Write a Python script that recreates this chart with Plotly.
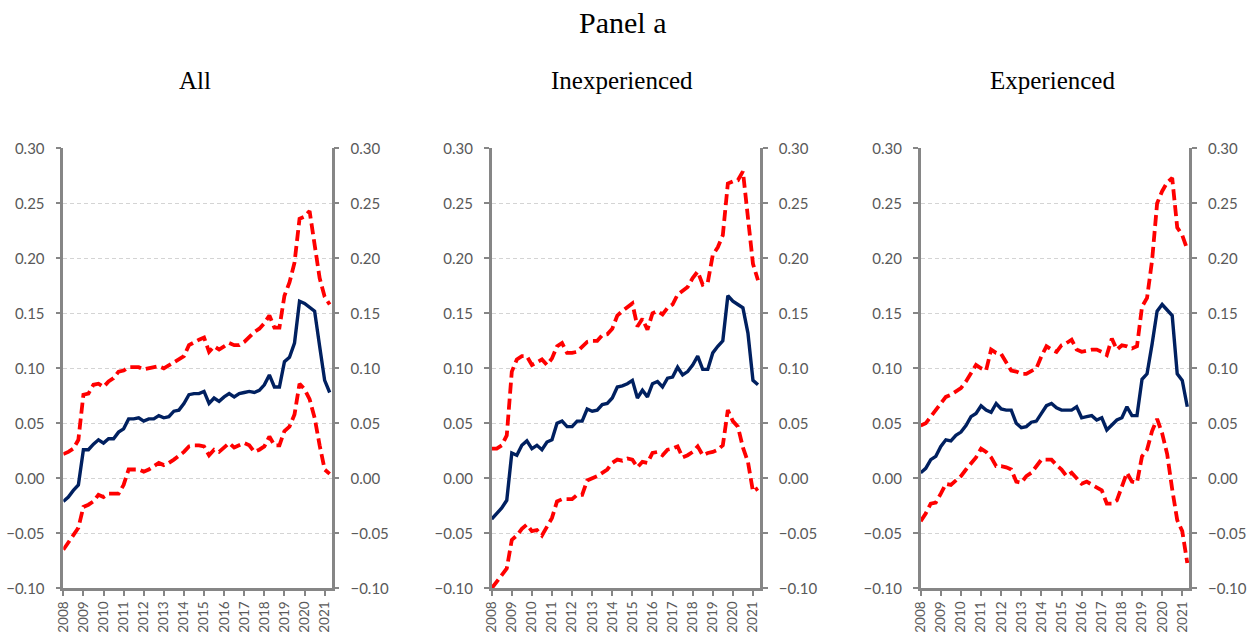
import plotly.graph_objects as go

# Quarterly observations, 2008Q1 - 2021Q2
quarters = [f"{y}Q{q}" for y in range(2008, 2022) for q in range(1, 5)][:54]
year_ticks = [f"{y}Q1" for y in range(2008, 2022)]
year_labels = [str(y) for y in range(2008, 2022)]

panel_names = ["All", "Inexperienced", "Experienced"]

all_mid = [-0.021, -0.017, -0.011, -0.006,
           0.026, 0.026, 0.031, 0.035, 0.032, 0.036, 0.036, 0.042,
           0.045, 0.054, 0.054, 0.055, 0.052, 0.054, 0.054, 0.057,
           0.055, 0.056, 0.061, 0.062, 0.068, 0.076, 0.077, 0.077,
           0.079, 0.068, 0.073, 0.070, 0.074, 0.077, 0.074, 0.077,
           0.078, 0.079, 0.078, 0.080, 0.085, 0.094, 0.083, 0.083,
           0.106, 0.110, 0.123, 0.161, 0.159, 0.155, 0.152, 0.120,
           0.089, 0.078]
all_hi = [0.022, 0.024, 0.027, 0.035,
          0.076, 0.077, 0.085, 0.086, 0.083, 0.088, 0.091, 0.097,
          0.098, 0.101, 0.101, 0.101, 0.099, 0.100, 0.101, 0.102,
          0.100, 0.103, 0.106, 0.108, 0.111, 0.121, 0.124, 0.126,
          0.128, 0.115, 0.120, 0.117, 0.120, 0.123, 0.121, 0.121,
          0.124, 0.129, 0.133, 0.136, 0.141, 0.148, 0.137, 0.137,
          0.166, 0.178, 0.196, 0.236, 0.238, 0.243, 0.212, 0.182,
          0.165, 0.158]
all_lo = [-0.065, -0.058, -0.052, -0.045,
          -0.026, -0.024, -0.021, -0.015, -0.017, -0.014, -0.014, -0.014,
          -0.006, 0.008, 0.008, 0.008, 0.006, 0.008, 0.011, 0.014,
          0.012, 0.014, 0.017, 0.020, 0.024, 0.029, 0.030, 0.030,
          0.029, 0.021, 0.026, 0.024, 0.028, 0.032, 0.028, 0.030,
          0.032, 0.030, 0.024, 0.026, 0.029, 0.038, 0.030, 0.030,
          0.043, 0.047, 0.058, 0.086, 0.081, 0.072, 0.055, 0.030,
          0.008, 0.004]

inex_mid = [-0.037, -0.032, -0.027, -0.020,
            0.023, 0.021, 0.030, 0.034, 0.027, 0.030, 0.026, 0.033,
            0.035, 0.050, 0.052, 0.047, 0.047, 0.052, 0.052, 0.063,
            0.061, 0.062, 0.067, 0.068, 0.073, 0.083, 0.084, 0.086,
            0.089, 0.073, 0.080, 0.074, 0.086, 0.088, 0.083, 0.091,
            0.092, 0.101, 0.094, 0.097, 0.103, 0.111, 0.099, 0.099,
            0.114, 0.120, 0.125, 0.166, 0.161, 0.158, 0.155, 0.132,
            0.089, 0.085]
inex_hi = [0.027, 0.027, 0.030, 0.039,
           0.097, 0.108, 0.111, 0.111, 0.103, 0.106, 0.108, 0.103,
           0.109, 0.120, 0.123, 0.114, 0.114, 0.115, 0.120, 0.124,
           0.125, 0.125, 0.130, 0.131, 0.136, 0.148, 0.152, 0.155,
           0.159, 0.138, 0.145, 0.135, 0.150, 0.152, 0.149, 0.155,
           0.158, 0.167, 0.170, 0.174, 0.182, 0.188, 0.176, 0.178,
           0.203, 0.210, 0.221, 0.268, 0.270, 0.271, 0.279, 0.240,
           0.195, 0.180]
inex_lo = [-0.100, -0.094, -0.088, -0.082,
           -0.056, -0.052, -0.046, -0.042, -0.048, -0.047, -0.052, -0.044,
           -0.036, -0.021, -0.019, -0.019, -0.019, -0.015, -0.015, -0.002,
           0.000, 0.002, 0.005, 0.008, 0.014, 0.017, 0.016, 0.018,
           0.017, 0.010, 0.015, 0.014, 0.023, 0.024, 0.021, 0.026,
           0.027, 0.029, 0.019, 0.021, 0.024, 0.029, 0.021, 0.023,
           0.024, 0.026, 0.030, 0.062, 0.052, 0.047, 0.028, 0.015,
           -0.012, -0.009]

exp_mid = [0.005, 0.009, 0.017, 0.020,
           0.029, 0.035, 0.034, 0.039, 0.042, 0.048, 0.056, 0.059,
           0.066, 0.062, 0.060, 0.068, 0.063, 0.062, 0.062, 0.050,
           0.046, 0.047, 0.051, 0.052, 0.059, 0.066, 0.068, 0.064,
           0.062, 0.062, 0.062, 0.065, 0.055, 0.056, 0.057, 0.053,
           0.055, 0.044, 0.049, 0.053, 0.055, 0.065, 0.057, 0.057,
           0.090, 0.095, 0.122, 0.152, 0.158, 0.153, 0.148, 0.095,
           0.089, 0.065]
exp_hi = [0.048, 0.050, 0.056, 0.062,
          0.068, 0.074, 0.076, 0.079, 0.082, 0.088, 0.095, 0.103,
          0.100, 0.098, 0.117, 0.114, 0.113, 0.105, 0.098, 0.097,
          0.095, 0.095, 0.098, 0.100, 0.111, 0.120, 0.117, 0.115,
          0.121, 0.123, 0.126, 0.117, 0.115, 0.116, 0.117, 0.117,
          0.115, 0.112, 0.127, 0.117, 0.121, 0.120, 0.118, 0.120,
          0.156, 0.164, 0.198, 0.250, 0.261, 0.269, 0.273, 0.228,
          0.221, 0.208]
exp_lo = [-0.039, -0.032, -0.023, -0.022,
          -0.014, -0.005, -0.006, -0.002, 0.002, 0.008, 0.014, 0.019,
          0.027, 0.024, 0.019, 0.011, 0.011, 0.010, 0.008, -0.003,
          -0.004, 0.002, 0.005, 0.011, 0.017, 0.017, 0.017, 0.012,
          0.008, 0.002, 0.005, 0.000, -0.005, -0.003, -0.006, -0.009,
          -0.011, -0.023, -0.023, -0.020, -0.008, 0.005, -0.003, -0.004,
          0.020, 0.026, 0.043, 0.054, 0.041, 0.022, -0.010, -0.038,
          -0.048, -0.077]

y_ticks = [-0.10, -0.05, 0.00, 0.05, 0.10, 0.15, 0.20, 0.25, 0.30]

panels = [
    (all_mid, all_lo, all_hi),
    (inex_mid, inex_lo, inex_hi),
    (exp_mid, exp_lo, exp_hi),
]

W, H = 1253, 635
NAVY = "#002060"
RED = "#FF0000"
AXIS = "#868686"
SANS = "Lato, Open Sans, sans-serif"
YTICKFONT = dict(family=SANS, size=15, color="#595959")
XTICKFONT = dict(family=SANS, size=13.5, color="#595959")
SERIF = "Liberation Serif, Times New Roman, serif"

# plot-area edges in pixels for each panel
left_px = [63.3, 491.7, 920.7]
right_px = [331.7, 760.0, 1189.3]
top_px, bottom_px = 148.3, 588.3

fig = go.Figure()
layout = dict(
    template="none",
    width=W, height=H,
    margin=dict(l=0, r=0, t=0, b=0, autoexpand=False),
    paper_bgcolor="white", plot_bgcolor="white",
    showlegend=False,
)

ydom = [1 - bottom_px / H, 1 - top_px / H]

for k, (mid, lo, hi) in enumerate(panels):
    xa = "x" if k == 0 else f"x{k + 1}"
    yl = 2 * k + 1
    yr = 2 * k + 2
    ya_left = "y" if yl == 1 else f"y{yl}"
    ya_right = f"y{yr}"
    for series, color, dash, width in ((hi, RED, "11px,5px", 3.8),
                                       (lo, RED, "11px,5px", 3.8),
                                       (mid, NAVY, "solid", 3.4)):
        fig.add_trace(go.Scatter(
            x=quarters, y=series, mode="lines",
            line=dict(color=color, width=width, dash=dash),
            xaxis=xa, yaxis=ya_left, hoverinfo="skip",
        ))
    # empty trace so the secondary (right-hand) value axis is rendered
    fig.add_trace(go.Scatter(x=[], y=[], mode="lines", xaxis=xa,
                             yaxis=ya_right, hoverinfo="skip"))

    xkey = "xaxis" if k == 0 else f"xaxis{k + 1}"
    layout[xkey] = dict(
        domain=[left_px[k] / W, right_px[k] / W],
        anchor=ya_left,
        type="category",
        categoryorder="array", categoryarray=quarters,
        range=[0, 53.4],
        tickmode="array", tickvals=year_ticks, ticktext=year_labels,
        tickangle=-90,
        showline=True, linecolor=AXIS, linewidth=2.5,
        ticks="outside", ticklen=5, tickwidth=2, tickcolor=AXIS,
        ticklabelstandoff=0,
        showgrid=False, zeroline=False, automargin=False,
        tickfont=XTICKFONT,
    )
    common_y = dict(
        domain=ydom, range=[-0.10, 0.30],
        tickmode="array", tickvals=y_ticks,
        tickformat=".2f",
        showline=True, linecolor=AXIS, linewidth=2.5,
        ticks="outside", ticklen=5, tickwidth=2, tickcolor=AXIS,
        ticklabelstandoff=8, automargin=False,
        zeroline=False, tickfont=YTICKFONT,
    )
    ykey_l = "yaxis" if yl == 1 else f"yaxis{yl}"
    layout[ykey_l] = dict(common_y, anchor=xa, side="left",
                          showgrid=True, gridcolor="#d4d4d4", gridwidth=1,
                          griddash="4px,3px")
    layout[f"yaxis{yr}"] = dict(common_y, anchor=xa, side="right",
                                overlaying=ya_left, showgrid=False)

annotations = [dict(text="Panel a", x=622 / W, y=1 - 22 / H,
                    xref="paper", yref="paper", showarrow=False,
                    xanchor="center", yanchor="middle",
                    font=dict(family=SERIF, size=30, color="black"))]
for name, cx in zip(panel_names, [195, 622, 1052]):
    annotations.append(dict(text=name, x=cx / W, y=1 - 80 / H,
                            xref="paper", yref="paper", showarrow=False,
                            xanchor="center", yanchor="middle",
                            font=dict(family=SERIF, size=25, color="black")))
layout["annotations"] = annotations

fig.update_layout(**layout)
fig.write_html("out.html")
